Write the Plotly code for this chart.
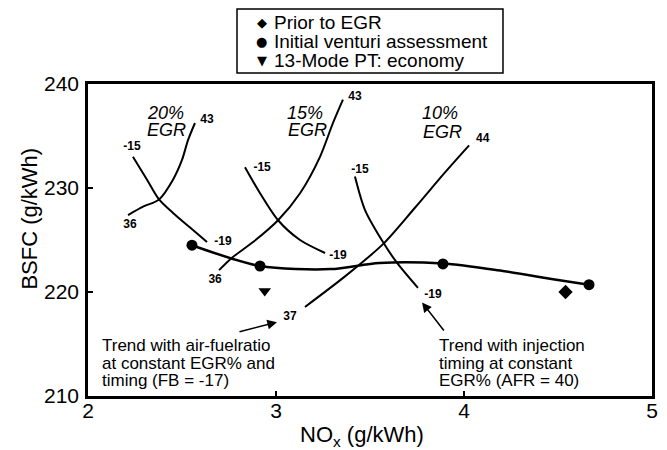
import plotly.graph_objects as go

FONT = "Liberation Sans, Arial, sans-serif"

# ---- data ----
prior_x = [4.54]
prior_y = [220.0]
venturi_x = [2.553, 2.915, 3.888, 4.665]
venturi_y = [224.5, 222.5, 222.7, 220.7]
mode13_x = [2.94]
mode13_y = [220.1]

trend_x = [2.553, 2.915, 3.29, 3.55, 3.888, 4.18, 4.5, 4.665]
trend_y = [224.5, 222.5, 222.2, 222.8, 222.75, 222.1, 221.15, 220.7]

egr20_afr_x = [2.213, 2.293, 2.378, 2.452, 2.500, 2.532, 2.569]
egr20_afr_y = [227.4, 228.2, 228.9, 230.8, 232.7, 234.6, 236.25]
egr20_tim_x = [2.239, 2.314, 2.378, 2.452, 2.543, 2.633]
egr20_tim_y = [233.0, 230.8, 228.9, 227.6, 226.2, 224.8]

egr15_afr_x = [2.697, 2.766, 2.878, 3.011, 3.128, 3.234, 3.303, 3.356]
egr15_afr_y = [222.1, 223.3, 224.8, 226.9, 229.5, 233.0, 236.25, 238.5]
egr15_tim_x = [2.835, 2.915, 3.011, 3.128, 3.261]
egr15_tim_y = [232.0, 229.5, 226.9, 225.0, 223.75]

egr10_afr_x = [3.154, 3.367, 3.569, 3.739, 3.899, 4.027]
egr10_afr_y = [218.56, 221.5, 224.6, 228.1, 231.5, 234.1]
egr10_tim_x = [3.42, 3.473, 3.569, 3.644, 3.755]
egr10_tim_y = [231.1, 227.9, 224.8, 222.8, 220.4]

pt_labels = ["-15", "36", "43", "-19", "-15", "36", "43", "-19", "-15", "37", "44", "-19"]
pt_x = [2.234, 2.223, 2.633, 2.718, 2.926, 2.676, 3.42, 3.33, 3.447, 3.074, 4.10, 3.835]
pt_y = [233.9, 226.4, 236.5, 224.8, 231.9, 221.2, 238.75, 223.5, 231.7, 217.6, 234.7, 219.7]

egr_pct = ["20%", "15%", "10%"]
egr_pct_x = [2.41, 3.154, 3.872]
egr_pct_y = [237.2, 237.2, 237.2]
egr_word_x = [2.42, 3.165, 3.883]
egr_word_y = [235.6, 235.6, 235.4]

left_note = ["Trend with air-fuelratio", "at constant EGR% and", "timing (FB = -17)"]
left_note_x = 2.064
right_note = ["Trend with injection", "timing at constant", "EGR% (AFR = 40)"]
right_note_x = 3.856
note_y = [214.85, 213.15, 211.5]

arrow_left = dict(x=3.005, y=217.1, ax=2.798, ay=216.15)
arrow_right = dict(x=3.777, y=219.0, ax=3.899, ay=216.15)

legend_names = ["Prior to EGR", "Initial venturi assessment", "13-Mode PT: economy"]
legend_glyphs = ["\u25C6", "\u25CF", "\u25BC"]

x_ticks = [2, 3, 4, 5]
y_ticks = [210, 220, 230, 240]

fig = go.Figure()

curve_style = dict(color="black", width=2, shape="spline", smoothing=0.8)
for cx, cy in [(egr20_afr_x, egr20_afr_y), (egr20_tim_x, egr20_tim_y),
               (egr15_afr_x, egr15_afr_y), (egr15_tim_x, egr15_tim_y),
               (egr10_afr_x, egr10_afr_y), (egr10_tim_x, egr10_tim_y)]:
    fig.add_trace(go.Scatter(x=cx, y=cy, mode="lines", line=curve_style,
                             showlegend=False, hoverinfo="skip"))

fig.add_trace(go.Scatter(x=trend_x, y=trend_y, mode="lines",
                         line=dict(color="black", width=2.5, shape="spline", smoothing=0.8),
                         showlegend=False, hoverinfo="skip"))

fig.add_trace(go.Scatter(x=prior_x, y=prior_y, mode="markers", name=legend_names[0],
                         marker=dict(symbol="diamond", size=11, color="black")))
fig.add_trace(go.Scatter(x=venturi_x, y=venturi_y, mode="markers", name=legend_names[1],
                         marker=dict(symbol="circle", size=11, color="black")))
fig.add_trace(go.Scatter(x=mode13_x, y=mode13_y, mode="markers", name=legend_names[2],
                         marker=dict(symbol="triangle-down", size=11, color="black")))

fig.add_trace(go.Scatter(x=pt_x, y=pt_y, mode="text", text=["<b>%s</b>" % t for t in pt_labels],
                         textfont=dict(family=FONT, size=12, color="black"),
                         showlegend=False, hoverinfo="skip"))

annotations = []
for t, x, y in zip(egr_pct, egr_pct_x, egr_pct_y):
    annotations.append(dict(x=x, y=y, xref="x", yref="y", text="<i>%s</i>" % t,
                            showarrow=False, font=dict(family=FONT, size=18, color="black")))
for x, y in zip(egr_word_x, egr_word_y):
    annotations.append(dict(x=x, y=y, xref="x", yref="y", text="<i>EGR</i>",
                            showarrow=False, font=dict(family=FONT, size=18, color="black")))
for t, y in zip(left_note, note_y):
    annotations.append(dict(x=left_note_x, y=y, xref="x", yref="y", text=t, xanchor="left",
                            showarrow=False, font=dict(family=FONT, size=17, color="black")))
for t, y in zip(right_note, note_y):
    annotations.append(dict(x=right_note_x, y=y, xref="x", yref="y", text=t, xanchor="left",
                            showarrow=False, font=dict(family=FONT, size=17, color="black")))
for a in (arrow_left, arrow_right):
    annotations.append(dict(x=a["x"], y=a["y"], ax=a["ax"], ay=a["ay"], xref="x", yref="y",
                            axref="x", ayref="y", text="", showarrow=True, arrowhead=2,
                            arrowsize=1.2, arrowwidth=1.6, arrowcolor="black"))
annotations.append(dict(x=0.486, y=-0.128, xref="paper", yref="paper", yanchor="middle",
                        text="NO<sub>x</sub> (g/kWh)", showarrow=False,
                        font=dict(family=FONT, size=22, color="black")))
annotations.append(dict(x=-0.1037, y=0.567, xref="paper", yref="paper",
                        xanchor="center", yanchor="middle",
                        text="BSFC (g/kWh)", textangle=-90, showarrow=False,
                        font=dict(family=FONT, size=22, color="black")))

# legend box above the plot
legend_row_y = [1.198, 1.137, 1.076]
for g, name, ry in zip(legend_glyphs, legend_names, legend_row_y):
    annotations.append(dict(x=0.3085, y=ry, xref="paper", yref="paper", text=g,
                            xanchor="center", yanchor="middle", showarrow=False,
                            font=dict(family="DejaVu Sans", size=13, color="black")))
    annotations.append(dict(x=0.3262, y=ry, xref="paper", yref="paper", text=name,
                            xanchor="left", yanchor="middle", showarrow=False,
                            font=dict(family=FONT, size=19, color="black")))

shapes = [dict(type="rect", xref="paper", yref="paper", x0=0.2642, x1=0.7358,
               y0=1.0353, y1=1.2404, line=dict(color="black", width=1.5),
               fillcolor="white", layer="below")]

axis_common = dict(showgrid=False, zeroline=False, showline=True, linecolor="black",
                   linewidth=2.5, mirror=True, ticks="inside", ticklen=5, tickwidth=2,
                   tickcolor="black", tickfont=dict(family=FONT, size=21, color="black"))

# the page adds an 8px body margin, so margins are offset by 8px
fig.update_layout(
    width=667, height=450,
    margin=dict(l=80, r=23, t=76, b=62),
    plot_bgcolor="white", paper_bgcolor="white",
    xaxis=dict(range=[2, 5], tickvals=x_ticks, ticklabelstandoff=-6, **axis_common),
    yaxis=dict(range=[210, 240], tickvals=y_ticks, ticklabelstandoff=2, **axis_common),
    annotations=annotations,
    shapes=shapes,
    showlegend=False,
)

fig.write_html("out.html")
